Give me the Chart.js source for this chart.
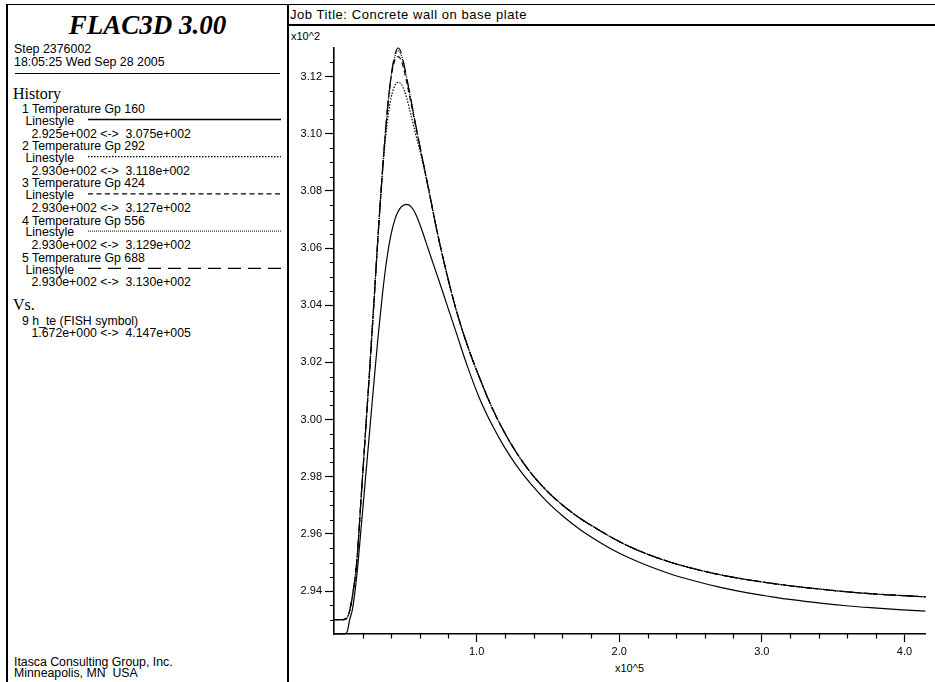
<!DOCTYPE html>
<html>
<head>
<meta charset="utf-8">
<script src="https://cdn.jsdelivr.net/npm/chart.js@4.4.0/dist/chart.umd.min.js"></script>
<style>
  html, body { margin: 0; padding: 0; background: #fff; }
  #page { position: relative; width: 935px; height: 682px; overflow: hidden; font-family: "Liberation Sans", Arial, sans-serif; color: #000; }
  .t { position: absolute; white-space: pre; font-size: 12.3px; line-height: 12px; }
  .serif { font-family: "Liberation Serif", "Times New Roman", serif; }
  .rule { position: absolute; background: #000; }
  #chartBox { position: absolute; left: 288px; top: 26px; width: 647px; height: 656px; }
  #legendLines { position: absolute; left: 0; top: 0; }
</style>
</head>
<body>
<div id="page">
  <div class="rule" style="left:6px;top:3.5px;width:929px;height:1.6px"></div>
  <div class="rule" style="left:6px;top:3.5px;width:2px;height:680px"></div>
  <div class="rule" style="left:287.3px;top:3.5px;width:2px;height:680px"></div>
  <div class="rule" style="left:288px;top:24px;width:647px;height:2px"></div>
  <div class="rule" style="left:15px;top:72.6px;width:265px;height:1.4px"></div>

  <div class="t serif" style="left:0;width:295px;text-align:center;top:12px;font-size:27px;line-height:27px;font-weight:bold;font-style:italic">FLAC3D 3.00</div>
  <div class="t" style="left:14px;top:43px;font-size:12.4px">Step 2376002</div>
  <div class="t" style="left:14px;top:55.5px;font-size:12.4px">18:05:25 Wed Sep 28 2005</div>
  <div class="t serif" style="left:13px;top:86px;font-size:16px;line-height:16px">History</div>
  <div class="t serif" style="left:13px;top:296.5px;font-size:16px;line-height:16px">Vs.</div>
  <div class="t" style="left:22px;top:315px">9 h_te (FISH symbol)</div>
  <div class="t" style="left:31.5px;top:326.5px">1.672e+000 &lt;-&gt;  4.147e+005</div>
  <div class="t" style="left:14px;top:656px">Itasca Consulting Group, Inc.</div>
  <div class="t" style="left:14px;top:666.5px">Minneapolis, MN  USA</div>

  <div class="t" style="left:290px;top:8.3px;font-size:13px;line-height:13px;letter-spacing:0.55px">Job Title: Concrete wall on base plate</div>
  <div class="t" style="left:291px;top:30px;font-size:11px;line-height:12px">x10^2</div>
  <div class="t" style="left:615px;top:662px;font-size:11px;line-height:12px">x10^5</div>

  <svg id="legendLines" width="295" height="340"></svg>
  <div id="chartBox"><canvas id="histChart" width="647" height="656"></canvas></div>
</div>
<script>
// history values (x in units of 1e5, temperatures in units of 1e2)
const hTe = [0.0000167, 0.05, 0.08, 0.095, 0.11, 0.13, 0.16, 0.19, 0.22, 0.25, 0.28, 0.31, 0.34, 0.37, 0.40, 0.43, 0.45, 0.47, 0.49, 0.51,
  0.54, 0.57, 0.61, 0.66, 0.72, 0.79, 0.86, 0.94, 1.02, 1.11, 1.19, 1.28, 1.38, 1.49, 1.61, 1.73, 1.84, 1.96, 2.08, 2.21,
  2.36, 2.51, 2.71, 2.91, 3.06, 3.21, 3.41, 3.61, 3.76, 3.96, 4.147];

const temp160 = [2.925, 2.925, 2.9251, 2.9262, 2.9300, 2.9338, 2.9455, 2.9620, 2.9790, 2.9960, 3.0130, 3.0295, 3.0440, 3.0560, 3.0648, 3.0705, 3.0728, 3.0743, 3.0751, 3.0753,
  3.0745, 3.0722, 3.0672, 3.0598, 3.0510, 3.0405, 3.0300, 3.0180, 3.0075, 2.9980, 2.9908, 2.9839, 2.9775, 2.9715, 2.9660, 2.9614, 2.9578, 2.9543, 2.9514, 2.9487,
  2.9460, 2.9438, 2.9413, 2.9393, 2.9381, 2.9370, 2.9358, 2.9348, 2.9342, 2.9335, 2.9330];

const temp292 = [2.930, 2.930, 2.9302, 2.9310, 2.9332, 2.9385, 2.9505, 2.9725, 2.9950, 3.0175, 3.0410, 3.0650, 3.0865, 3.1025, 3.1125, 3.1172, 3.1180, 3.1175, 3.1155, 3.1125,
  3.1065, 3.1003, 3.0925, 3.0812, 3.0665, 3.0512, 3.0378, 3.0253, 3.0147, 3.0040, 2.9960, 2.9884, 2.9814, 2.9752, 2.9698, 2.9653, 2.9619, 2.9584, 2.9554, 2.9527,
  2.9501, 2.9480, 2.9457, 2.9439, 2.9428, 2.9418, 2.9407, 2.9397, 2.9391, 2.9385, 2.9380];

const temp424 = [2.930, 2.930, 2.9302, 2.9310, 2.9332, 2.9385, 2.9505, 2.9725, 2.9950, 3.0175, 3.0410, 3.0650, 3.0870, 3.1060, 3.1195, 3.1262, 3.1270, 3.1258, 3.1225, 3.1180,
  3.1108, 3.1032, 3.0937, 3.0815, 3.0665, 3.0512, 3.0378, 3.0253, 3.0147, 3.0040, 2.9960, 2.9884, 2.9814, 2.9752, 2.9698, 2.9653, 2.9619, 2.9584, 2.9554, 2.9527,
  2.9501, 2.9480, 2.9457, 2.9439, 2.9428, 2.9418, 2.9407, 2.9397, 2.9391, 2.9385, 2.9380];

const temp556 = [2.930, 2.930, 2.9302, 2.9310, 2.9332, 2.9385, 2.9505, 2.9725, 2.9950, 3.0175, 3.0410, 3.0650, 3.0870, 3.1060, 3.1200, 3.1276, 3.1290, 3.1278, 3.1240, 3.1195,
  3.1118, 3.1038, 3.0937, 3.0815, 3.0665, 3.0512, 3.0378, 3.0253, 3.0147, 3.0040, 2.9960, 2.9884, 2.9814, 2.9752, 2.9698, 2.9653, 2.9619, 2.9584, 2.9554, 2.9527,
  2.9501, 2.9480, 2.9457, 2.9439, 2.9428, 2.9418, 2.9407, 2.9397, 2.9391, 2.9385, 2.9380];

const temp688 = [2.930, 2.930, 2.9302, 2.9310, 2.9332, 2.9385, 2.9505, 2.9725, 2.9950, 3.0175, 3.0410, 3.0650, 3.0870, 3.1060, 3.1200, 3.1282, 3.1300, 3.1285, 3.1245, 3.1195,
  3.1118, 3.1038, 3.0937, 3.0815, 3.0665, 3.0512, 3.0378, 3.0253, 3.0147, 3.0040, 2.9960, 2.9884, 2.9814, 2.9752, 2.9698, 2.9653, 2.9619, 2.9584, 2.9554, 2.9527,
  2.9501, 2.9480, 2.9457, 2.9439, 2.9428, 2.9418, 2.9407, 2.9397, 2.9391, 2.9385, 2.9380];

const seriesNames = ['1 Temperature Gp 160', '2 Temperature Gp 292', '3 Temperature Gp 424', '4 Temperature Gp 556', '5 Temperature Gp 688'];
const seriesRanges = ['2.925e+002 <->  3.075e+002', '2.930e+002 <->  3.118e+002', '2.930e+002 <->  3.127e+002',
  '2.930e+002 <->  3.129e+002', '2.930e+002 <->  3.130e+002'];

const yTicks = [2.94, 2.96, 2.98, 3.00, 3.02, 3.04, 3.06, 3.08, 3.10, 3.12];
const xTicks = [1.0, 2.0, 3.0, 4.0];
const xRange = [0.00001672, 4.147];
const yRange = [2.925, 3.130];

const allTemps = [temp160, temp292, temp424, temp556, temp688];
const dashes = [[], [1.5, 1.5], [5, 3.5], [1, 1], [13, 7]];

// history legend in the left panel
const page = document.getElementById('page');
const svg = document.getElementById('legendLines');
const addText = (txt, left, top) => {
    const d = document.createElement('div');
    d.className = 't';
    d.style.left = left + 'px';
    d.style.top = top + 'px';
    d.textContent = txt;
    page.appendChild(d);
};
seriesNames.forEach((name, i) => {
    const top = 103 + 37.2 * i;
    addText(name, 22, top);
    addText('Linestyle', 25.5, top + 11.8);
    addText(seriesRanges[i], 31.5, top + 24.5);
    const ln = document.createElementNS('http://www.w3.org/2000/svg', 'line');
    ln.setAttribute('x1', 88);
    ln.setAttribute('x2', 281);
    ln.setAttribute('y1', top + 16.5);
    ln.setAttribute('y2', top + 16.5);
    ln.setAttribute('stroke', '#000');
    ln.setAttribute('stroke-width', i === 3 ? 1 : 1.3);
    if (dashes[i].length) ln.setAttribute('stroke-dasharray', dashes[i].join(' '));
    svg.appendChild(ln);
});

// small ticks between the labelled ones
const minorTicks = {
    id: 'minorTicks',
    afterDraw(chart) {
        const { ctx, chartArea, scales: { x, y } } = chart;
        ctx.save();
        ctx.strokeStyle = '#000';
        ctx.lineWidth = 1.2;
        ctx.beginPath();
        for (let i = 586; i < 626; i++) {
            if (i % 4 === 0) continue;
            const py = Math.round(y.getPixelForValue(i * 0.005)) + 0.5;
            ctx.moveTo(chartArea.left - 4, py);
            ctx.lineTo(chartArea.left, py);
        }
        for (let j = 1; j * 0.2 <= xRange[1]; j++) {
            if (j % 5 === 0) continue;
            const px = Math.round(x.getPixelForValue(j * 0.2)) + 0.5;
            ctx.moveTo(px, chartArea.bottom);
            ctx.lineTo(px, chartArea.bottom + 4.5);
        }
        ctx.stroke();
        ctx.restore();
    }
};

Chart.defaults.font.family = '"Liberation Sans", Arial, sans-serif';
Chart.defaults.font.size = 11;
Chart.defaults.color = '#000';

new Chart(document.getElementById('histChart'), {
    type: 'line',
    data: {
        datasets: allTemps.map((t, i) => ({
            label: seriesNames[i],
            data: hTe.map((h, k) => ({ x: h, y: t[k] })),
            borderColor: '#000',
            borderWidth: 1.2,
            borderDash: dashes[i],
            pointRadius: 0,
            fill: false,
            clip: false,
            cubicInterpolationMode: 'monotone'
        }))
    },
    options: {
        responsive: false,
        animation: false,
        events: [],
        layout: { padding: { top: 22, right: 9.6, bottom: 0, left: 0 } },
        plugins: { legend: { display: false }, tooltip: { enabled: false } },
        scales: {
            x: {
                type: 'linear',
                min: xRange[0],
                max: xRange[1],
                afterBuildTicks: (s) => { s.ticks = xTicks.map(v => ({ value: v })); },
                afterFit: (s) => { s.height = 48; },
                grid: { drawOnChartArea: false, tickLength: 8, tickColor: '#000', tickWidth: 1.2 },
                border: { color: '#000', width: 1.6 },
                ticks: { callback: v => v.toFixed(1), padding: 3, maxRotation: 0, autoSkip: false }
            },
            y: {
                type: 'linear',
                min: yRange[0],
                max: yRange[1],
                afterBuildTicks: (s) => { s.ticks = yTicks.map(v => ({ value: v })); },
                afterFit: (s) => { s.width = 46; },
                grid: { drawOnChartArea: false, tickLength: 9, tickColor: '#000', tickWidth: 1.2 },
                border: { color: '#000', width: 1.6 },
                ticks: { callback: v => v.toFixed(2), padding: 3, autoSkip: false }
            }
        }
    },
    plugins: [minorTicks]
});
</script>
</body>
</html>
